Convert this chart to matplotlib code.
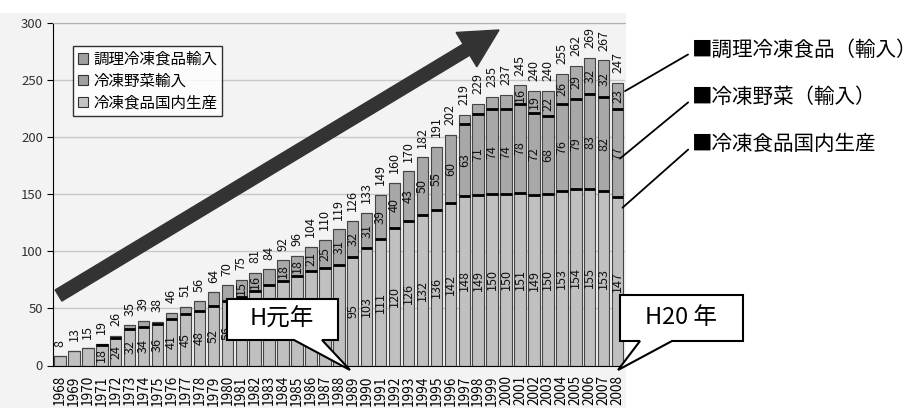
import matplotlib
matplotlib.use("Agg")
import matplotlib.pyplot as plt
import matplotlib.patches as mpatches
import numpy as np

plt.rcParams['font.family'] = ['Noto Sans CJK JP', 'DejaVu Sans']

# data (1968 - 2008)
years = list(range(1968, 2009))
domestic = [8, 13, 15, 18, 24, 32, 34, 36, 41, 45, 48, 52, 56, 60, 65, 70, 74, 78, 83, 85,
            88, 94.6, 102.6, 110.6, 120, 126.4, 132, 136, 142, 148, 149, 150, 150, 151, 149,
            150, 153, 154, 154.6, 153, 147]
vegetable = [0, 0, 0, 1, 2, 3, 5, 2, 5, 6, 8, 12, 14, 15, 16, 14, 18, 18, 21, 25,
             31, 31.6, 30.6, 38.6, 40, 43.4, 50, 55, 60, 63, 71, 74, 74, 78, 72,
             68, 76, 79, 82.6, 82, 77]
prepared = [0] * 29 + [8, 9, 11, 13, 16, 19, 22, 26, 29, 31.6, 32, 23]
# domestic labels hidden behind the "H元年" callout
hidden_dom_years = list(range(1981, 1989))

series_names = ['調理冷凍食品輸入', '冷凍野菜輸入', '冷凍食品国内生産']
side_labels = ['■調理冷凍食品（輸入）', '■冷凍野菜（輸入）', '■冷凍食品国内生産']
callouts = ['H元年', 'H20 年']

W, H = 916, 408
fig = plt.figure(figsize=(W / 100, H / 100), dpi=100)
fig.patch.set_facecolor('white')

def fpx(x, y):
    # top-left pixel coords -> figure fraction
    return x / W, 1 - y / H

bg = '#f3f3f3'
fig.patches.append(mpatches.Rectangle((0, 0), 626 / W, 1 - 13 / H, transform=fig.transFigure,
                                      facecolor=bg, edgecolor='none', zorder=-10))

ax = fig.add_axes([53.3 / W, 1 - 365.5 / H, (625 - 53.3) / W, (365.5 - 22.5) / H])
ax.set_facecolor(bg)

x = np.arange(len(years))
dom = np.array(domestic, float)
veg = np.array(vegetable, float)
pre = np.array(prepared, float)
bw = 0.82
c_dom, c_veg, c_pre = '#c0c0c0', '#a8a8a8', '#ababab'
edge = '#454545'

ax.bar(x, dom, bw, color=c_dom, edgecolor=edge, linewidth=0.8, zorder=2)
ax.bar(x, veg, bw, bottom=dom, color=c_veg, edgecolor=edge, linewidth=0.8, zorder=2)
ax.bar(x, pre, bw, bottom=dom + veg, color=c_pre, edgecolor=edge, linewidth=0.8, zorder=2)

# black boundaries between segments
m = veg > 0
ax.hlines(dom[m], x[m] - bw / 2, x[m] + bw / 2, color='black', lw=2, zorder=3)
m = pre > 0
ax.hlines((dom + veg)[m], x[m] - bw / 2, x[m] + bw / 2, color='black', lw=2, zorder=3)

# segment labels
nseg = (dom > 0).astype(int) + (veg > 0) + (pre > 0)
for k, (vals, base) in enumerate([(dom, np.zeros_like(dom)), (veg, dom), (pre, dom + veg)]):
    for i in x:
        if k == 0 and years[i] in hidden_dom_years:
            continue
        if nseg[i] > 1 and vals[i] >= 15:
            ax.text(i, base[i] + vals[i] / 2, f'{vals[i]:.0f}', rotation=90,
                    ha='center', va='center', fontsize=9, color='#111111', zorder=4)

# totals above bars
tot = dom + veg + pre
for i in x:
    ax.annotate(f'{tot[i]:.0f}', (i, tot[i]), xytext=(0, 7), textcoords='offset points',
                rotation=90, ha='center', va='bottom', fontsize=9, color='#111111')

ax.set_xlim(-0.48, 40.53)
ax.set_ylim(0, 300)
ax.set_yticks(range(0, 301, 50))
ax.set_xticks(x)
ax.set_xticklabels([str(y) for y in years], rotation=90, fontsize=9.8, va='top')
ax.tick_params(axis='x', length=0, pad=7)
ax.tick_params(axis='y', length=4, direction='out', labelsize=9.5, labelcolor='#333333')
ax.yaxis.grid(True, color='#c8c8c8', lw=1, zorder=0)
ax.set_axisbelow(True)
ax.spines['right'].set_visible(False)
ax.spines['top'].set_color('#b0b0b0')
ax.spines['left'].set_color('black')
ax.spines['bottom'].set_color('black')

handles = [mpatches.Patch(facecolor=c, edgecolor='#333333', lw=0.8)
           for c in ['#a0a0a0', '#a0a0a0', '#c4c4c4']]
leg = ax.legend(handles, series_names, loc='upper left', bbox_to_anchor=(0.0345, 0.931),
                borderaxespad=0, fontsize=11.2, frameon=True, fancybox=False,
                handlelength=0.65, handleheight=0.65, handletextpad=0.35, labelspacing=0.3,
                borderpad=0.3)
leg.get_frame().set_edgecolor('black')
leg.get_frame().set_linewidth(1)
leg.get_frame().set_facecolor('white')

# big trend arrow
arrow = mpatches.FancyArrow(0.585, 1.125, 4.405, 2.655, width=0.13, head_width=0.40,
                            head_length=0.38, length_includes_head=True,
                            transform=fig.dpi_scale_trans, color='#333333', zorder=5)
fig.add_artist(arrow)

# callout boxes
def callout(pts, text, center):
    poly = mpatches.Polygon([fpx(*p) for p in pts], closed=True, transform=fig.transFigure,
                            facecolor='white', edgecolor='black', lw=1.5, zorder=6)
    fig.add_artist(poly)
    fig.text(*fpx(*center), text, ha='center', va='center', fontsize=17, zorder=7)

callout([(227, 299), (338, 299), (338, 340), (322, 340), (350, 370), (294, 340), (227, 340)],
        callouts[0], (282, 319))
callout([(620, 295), (743, 295), (743, 341), (672, 341), (618, 370), (640, 341), (620, 341)],
        callouts[1], (681, 317))

# side labels pointing at the 2008 bar
targets = [(40.53, 240), (40.17, 181), (40.35, 138)]
text_y = [50, 97, 144]
for lab, (tx, ty), yy in zip(side_labels, targets, text_y):
    ax.annotate(lab, (tx, ty), xycoords='data', xytext=(692, H - yy),
                textcoords='figure pixels', ha='left', va='center', fontsize=14.8,
                annotation_clip=False,
                arrowprops=dict(arrowstyle='-', color='black', lw=1.3,
                                relpos=(0, 0.4), shrinkA=1, shrinkB=0))

fig.savefig('out.png', dpi=100)
